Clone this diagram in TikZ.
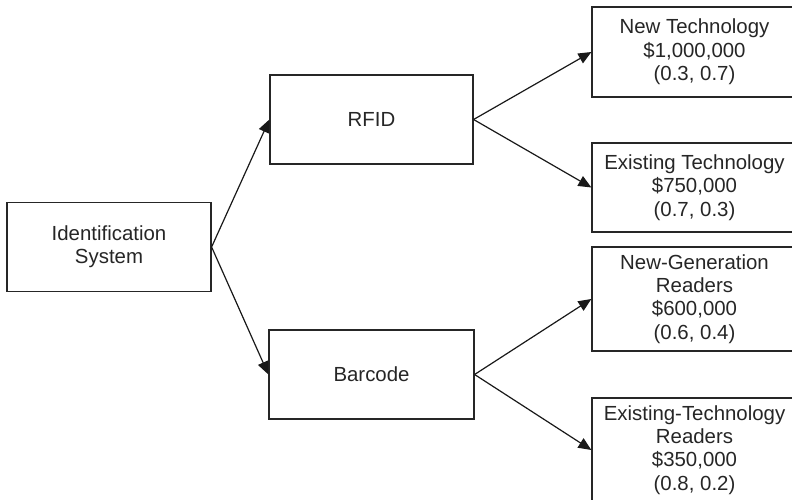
\documentclass[tikz,border=0pt]{standalone}
\usepackage{fontspec}
\setmainfont{Liberation Sans}
\usetikzlibrary{arrows.meta}
\begin{document}
\begin{tikzpicture}[x=1pt,y=-1pt,
  box/.style={draw=black!85, line width=1.2pt, rectangle, align=center,
    inner sep=0pt, minimum width=205pt, minimum height=89pt,
    text=black!85, font=\fontsize{20.4}{23.4}\selectfont},
  % a taller first line pushes the text block a little lower in the box
  lowered/.style={execute at begin node={\rule{0pt}{20.6pt}}},
  tallbox/.style={box, lowered, minimum height=104pt},
  link/.style={draw=black!90, line width=1.2pt,
    -{Triangle[length=13pt,width=11pt]}}]
\useasboundingbox (0,0) rectangle (792,500);
\clip (0,0) rectangle (792,500);
\fill[white] (0,0) rectangle (792,500);

% decision tree boxes
\node[box, lowered, minimum width=204pt] (ident) at (109,247) {Identification\\System};
\node[box, minimum width=203pt] (rfid) at (371.5,119.5) {RFID};
\node[box] (barcode) at (371.5,374.5) {Barcode};
\node[box, minimum height=90pt] (newtech) at (694.5,52) {New Technology\\\$1,000,000\\(0.3, 0.7)};
\node[box] (oldtech) at (694.5,187.5) {Existing Technology\\\$750,000\\(0.7, 0.3)};
\node[tallbox] (newread) at (694.5,299) {New-Generation\\Readers\\\$600,000\\(0.6, 0.4)};
\node[tallbox] (oldread) at (694.5,450) {Existing-Technology\\Readers\\\$350,000\\(0.8, 0.2)};

% branches
\draw[link] (ident.east) -- (rfid.west);
\draw[link] (ident.east) -- (barcode.west);
\draw[link] (rfid.east) -- (newtech.west);
\draw[link] (rfid.east) -- (oldtech.west);
\draw[link] (barcode.east) -- (newread.west);
\draw[link] (barcode.east) -- (oldread.west);
\end{tikzpicture}
\end{document}
